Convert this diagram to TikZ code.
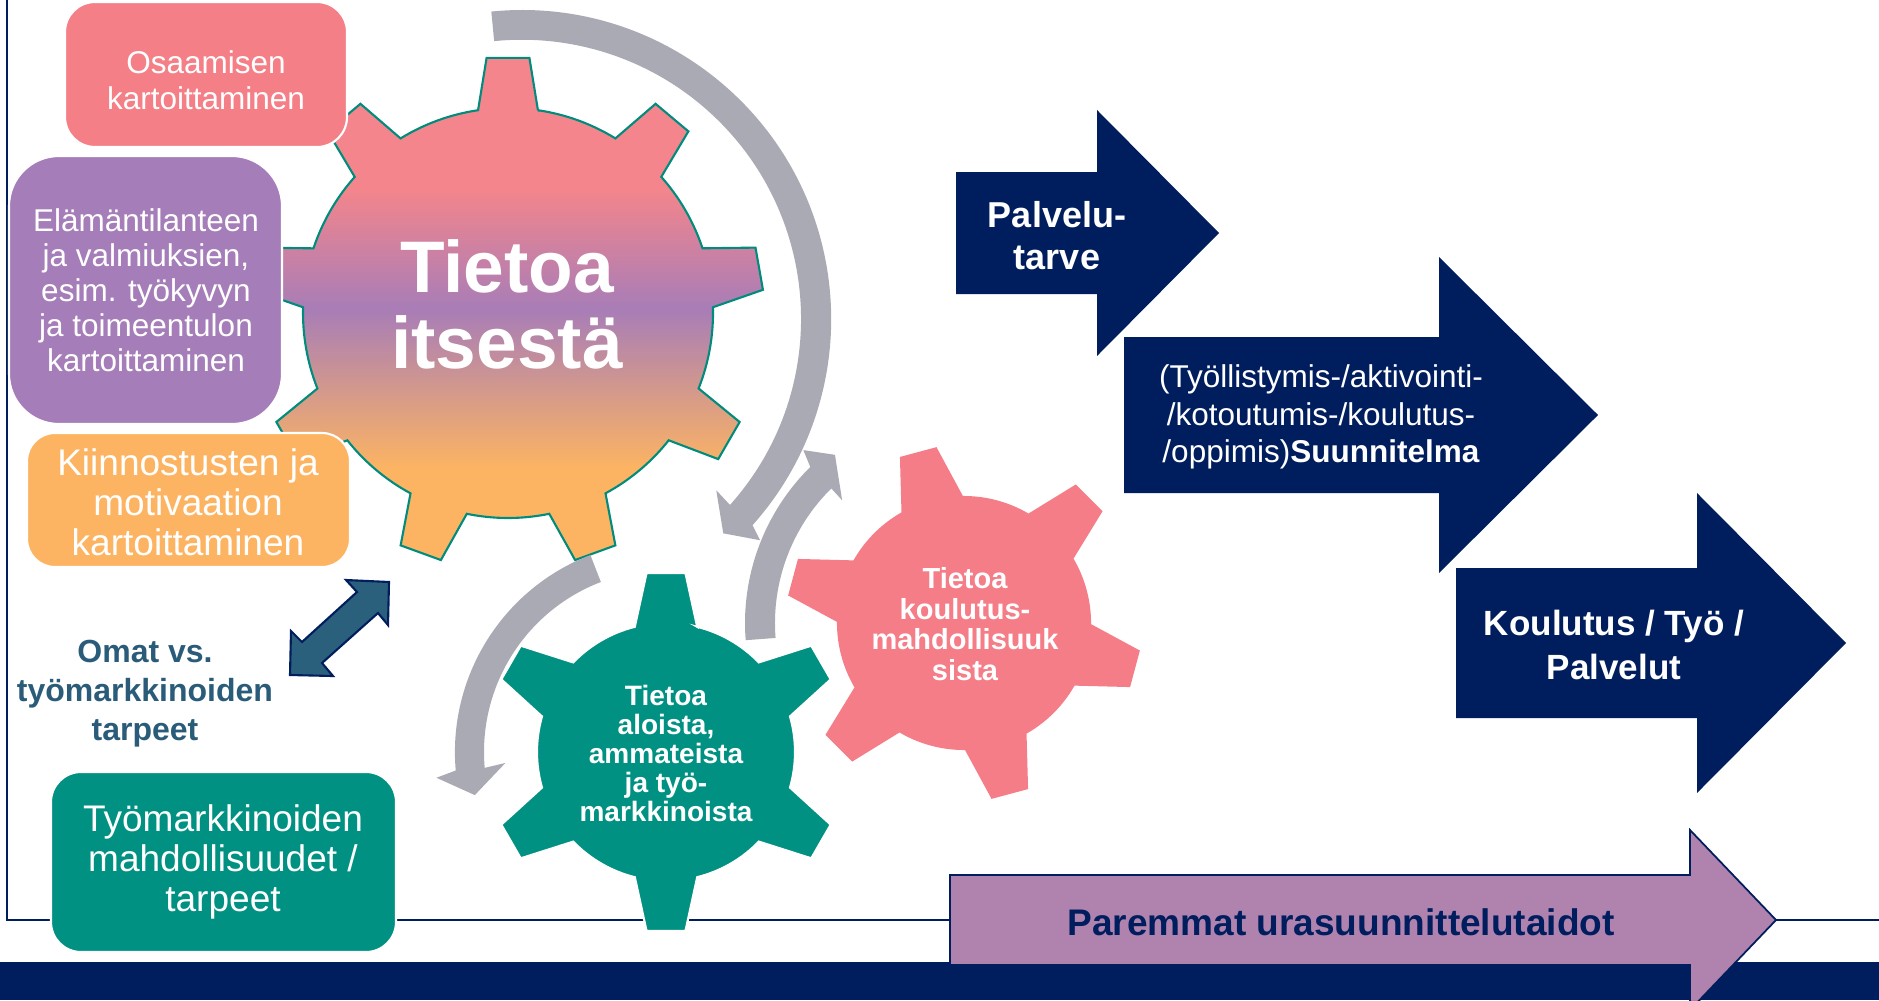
\documentclass[tikz,border=0pt]{standalone}
\usepackage{fontspec}
\setmainfont{Liberation Sans}
\definecolor{navy}{RGB}{0,30,94}
\definecolor{grayarc}{RGB}{170,170,181}
\definecolor{boxpink}{RGB}{245,127,135}
\definecolor{boxpurple}{RGB}{165,125,184}
\definecolor{boxorange}{RGB}{253,180,98}
\definecolor{teal}{RGB}{0,145,130}
\definecolor{gearline}{RGB}{0,140,125}
\definecolor{gpink}{RGB}{244,133,140}
\definecolor{gpurple}{RGB}{168,125,183}
\definecolor{gorange}{RGB}{253,180,98}
\definecolor{gearpink}{RGB}{245,125,135}
\definecolor{dblue}{RGB}{43,96,125}
\definecolor{omatblue}{RGB}{42,92,122}
\definecolor{arrowpurple}{RGB}{176,130,174}
\pgfdeclareverticalshading{gearshade}{100bp}{color(0bp)=(gorange); color(34bp)=(gorange); color(50bp)=(gpurple); color(62bp)=(gpink); color(100bp)=(gpink)}
\newcommand\myfs[2]{\fontsize{#1}{#2}\selectfont}
% #1 last tooth index, #2 first angle, #3 step, #4 body r, #5 tip r, #6 base half angle, #7 tip half angle, #8 arc radius, #9 options
\newcommand\drawgear[9]{\path[#9] ({#2-#6}:#4) \foreach \k [evaluate=\k as \a using {#2+\k*#3}] in {0,...,#1} { -- ({\a-#7}:#5) -- ({\a+#7}:#5) -- ({\a+#6}:#4) arc[start angle={\a+#6}, end angle={\a+#3-#6}, radius=#8] } -- cycle;}
\tikzset{
  boxstyle/.style={draw=white, line width=0.6pt},
  wtext/.style={text=white, align=center, inner sep=0pt},
  grayshape/.style={fill=grayarc},
  navyarrow/.style={fill=navy},
}
\begin{document}
\begin{tikzpicture}[x=0.01cm, y=0.01cm]
\useasboundingbox (0,0) rectangle (1879,-1000);
\clip (0,0) rectangle (1879,-1000);
\fill[white] (0,0) rectangle (1879,-1000);
% frame lines
\draw[navy, line width=0.6pt] (7,0) -- (7,-920) -- (1879,-920);
% bottom band
\fill[navy] (0,-962) rectangle (1879,-1000);
% big gray arc
\fill[grayshape, shift={(522,-319)}] (95.7:309) arc[start angle=95.7, end angle=-41.8, radius=3.09cm] -- (-42.9:325) -- (-46.8:294) -- (-41.4:259) -- (-41.8:279) arc[start angle=-41.8, end angle=95.7, radius=2.79cm] -- cycle;
% big gear
\drawgear{8}{90}{40}{205}{256}{8.4}{4.8}{2.05cm}{shift={(508,-313)}, shade, shading=gearshade, draw=gearline, line width=0.6pt}
\node[wtext, font=\bfseries\myfs{20.77}{21.62}] (tself) at (507,-304) {Tietoa\\itsestä};
% boxes on the left
\path[boxstyle, fill=boxpink, rounded corners=0.3cm] (65,-2) rectangle (347,-147);
\node[wtext, font=\myfs{8.96}{10.24}] (tosaa) at (206,-80) {Osaamisen\\kartoittaminen};
\path[boxstyle, fill=boxpurple, rounded corners=0.5cm] (9,-156) rectangle (282,-424);
\node[wtext, font=\myfs{8.96}{9.96}] (telam) at (146,-290) {Elämäntilanteen\\ja valmiuksien,\\esim. työkyvyn\\ja toimeentulon\\kartoittaminen};
\path[boxstyle, fill=boxorange, rounded corners=0.28cm] (27,-433) rectangle (350,-567);
\node[wtext, font=\myfs{10.53}{11.38}] (tkiin) at (188,-502) {Kiinnostusten ja\\motivaation\\kartoittaminen};
% left gray arc
\fill[grayshape, shift={(666,-752)}] (111:211) arc[start angle=111, end angle=185, radius=2.11cm] -- (186.4:231) -- (192.7:196) -- (183.9:161) -- (185:182) arc[start angle=185, end angle=111, radius=1.82cm] -- cycle;
% right gray arc
\fill[grayshape, shift={(964,-623)}] (184.5:219) arc[start angle=184.5, end angle=134.6, radius=2.19cm] -- (132.9:236) -- (127.5:212) -- (134.8:173) -- (134.6:189) arc[start angle=134.6, end angle=184.5, radius=1.89cm] -- cycle;
% teal gear
\drawgear{5}{90}{60}{129}{180}{14}{6.2}{1.29cm}{shift={(666,-752)}, fill=teal, draw=white, line width=0.6pt}
\node[wtext, font=\bfseries\myfs{7.97}{8.25}] (talo) at (666,-753) {Tietoa\\aloista,\\ammateista\\ja työ-\\markkinoista};
% pink gear
\drawgear{5}{105}{-60}{127}{178}{14.5}{6.1}{1.27cm}{shift={(964,-623)}, fill=gearpink}
\node[wtext, font=\bfseries\myfs{8.25}{8.68}] (tkoul) at (965,-624) {Tietoa\\koulutus-\\mahdollisuuk\\sista};
% teal box
\path[boxstyle, fill=teal, rounded corners=0.3cm] (51,-772) rectangle (396,-952);
\node[wtext, font=\myfs{10.53}{11.38}] (ttyo) at (223,-862) {Työmarkkinoiden\\mahdollisuudet /\\tarpeet};
% double arrow
\draw[fill=dblue, draw=navy, line width=0.6pt, line join=miter] (346,-580) -- (389,-582) -- (388,-625) -- (378,-613) -- (322,-663) -- (333,-676) -- (290,-675) -- (291,-631) -- (302,-642) -- (357,-592) -- cycle;
\node[text=omatblue, align=center, inner sep=0pt, font=\bfseries\myfs{9.1}{11.1}] (tomat) at (145,-694) {Omat vs.\\työmarkkinoiden\\tarpeet};
% navy arrows
\fill[navyarrow] (956,-172) -- (1097,-172) -- (1097,-110) -- (1219,-233) -- (1097,-356) -- (1097,-294) -- (956,-294) -- cycle;
\node[wtext, font=\bfseries\myfs{10.24}{11.95}] (tpalv) at (1057,-236) {Palvelu-\\tarve};
\fill[navyarrow] (1124,-337) -- (1439,-337) -- (1439,-257) -- (1598,-415) -- (1439,-573) -- (1439,-493) -- (1124,-493) -- cycle;
\node[wtext, font=\myfs{8.96}{10.67}] (tsuun) at (1321,-417) {(Työllistymis-/aktivointi-\\/kotoutumis-/koulutus-\\/oppimis)\textbf{Suunnitelma}};
\fill[navyarrow] (1456,-568) -- (1697,-568) -- (1697,-493) -- (1846,-643) -- (1697,-793) -- (1697,-718) -- (1456,-718) -- cycle;
\node[wtext, font=\bfseries\myfs{9.96}{12.52}] (tkty) at (1614,-645) {Koulutus / Työ /\\Palvelut};
% purple arrow
\draw[fill=arrowpurple, draw=navy, line width=0.5pt] (950,-875) -- (1690,-875) -- (1690,-830) -- (1776,-920) -- (1690,-1010) -- (1690,-965) -- (950,-965) -- cycle;
\node[text=navy, inner sep=0pt, font=\bfseries\myfs{10.53}{12}] (tpar) at (1341,-922) {Paremmat urasuunnittelutaidot};
\end{tikzpicture}
\end{document}
